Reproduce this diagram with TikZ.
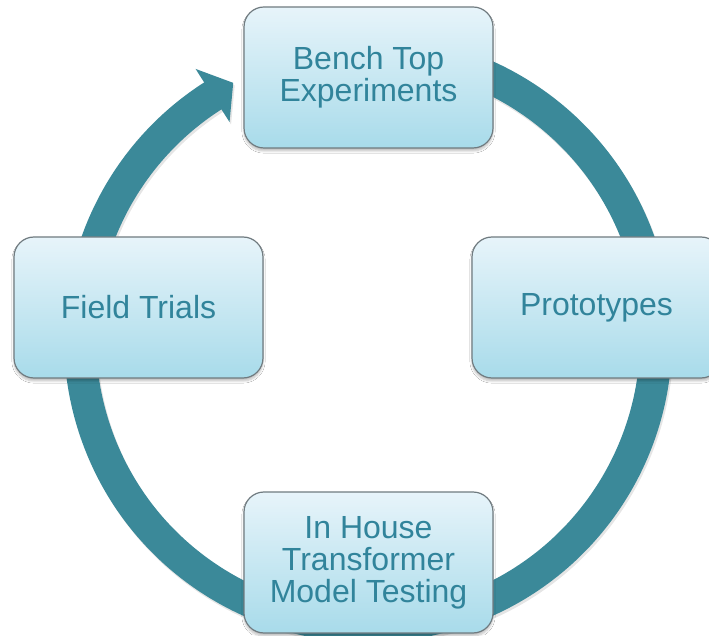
\documentclass[tikz,border=0pt]{standalone}
\usepackage{fontspec}
\setmainfont{Liberation Sans}
\usetikzlibrary{shadows.blur}
\definecolor{ringteal}{HTML}{3B8999}
\definecolor{labelteal}{HTML}{31849B}
\definecolor{boxtop}{HTML}{E7F4FA}
\definecolor{boxbottom}{HTML}{A8DBEA}
\definecolor{boxedge}{HTML}{707B80}
\begin{document}
\begin{tikzpicture}[x=1pt,y=1pt,
  stage/.style={rectangle, rounded corners=20pt, minimum width=249pt,
    minimum height=141pt, draw=boxedge, line width=1.2pt,
    top color=boxtop, bottom color=boxbottom, text=labelteal,
    font=\fontsize{32}{32}\selectfont, align=center, inner sep=0pt,
    blur shadow={shadow xshift=0pt, shadow yshift=-3pt, shadow blur steps=6, shadow opacity=25}},
  cyclering/.style={line width=32pt, draw=ringteal},
  ringshade/.style={line width=32pt, draw=black, opacity=0.10}]
\useasboundingbox (0,0) rectangle (709,635);
\fill[white] (0,0) rectangle (709,635);
\coordinate (hub) at (368,296.5);

% soft shadow under the cycle arrow
\begin{scope}[shift={(hub)}, xshift=1.5pt, yshift=-2.5pt]
  \draw[ringshade] (105:288) arc[start angle=105, end angle=-238, radius=288];
  \fill[black, opacity=0.10] (117.8:289) -- (122.6:320) -- (122.6:257) -- cycle;
\end{scope}

% the circular arrow running clockwise round the four stages
\begin{scope}[shift={(hub)}]
  \draw[cyclering] (105:288) arc[start angle=105, end angle=-238, radius=288];
  \fill[ringteal] (117.8:289) -- (122.6:320) -- (122.6:257) -- cycle;
\end{scope}

% the four stages
\node[stage] (bench) at (368.5,557.5) {Bench Top\\Experiments};
\node[stage] (proto) at (596.5,327.5) {Prototypes};
\node[stage] (house) at (368.5,72.5) {In House\\Transformer\\Model Testing};
\node[stage] (field) at (138.5,327.5) {Field Trials};
\end{tikzpicture}
\end{document}
